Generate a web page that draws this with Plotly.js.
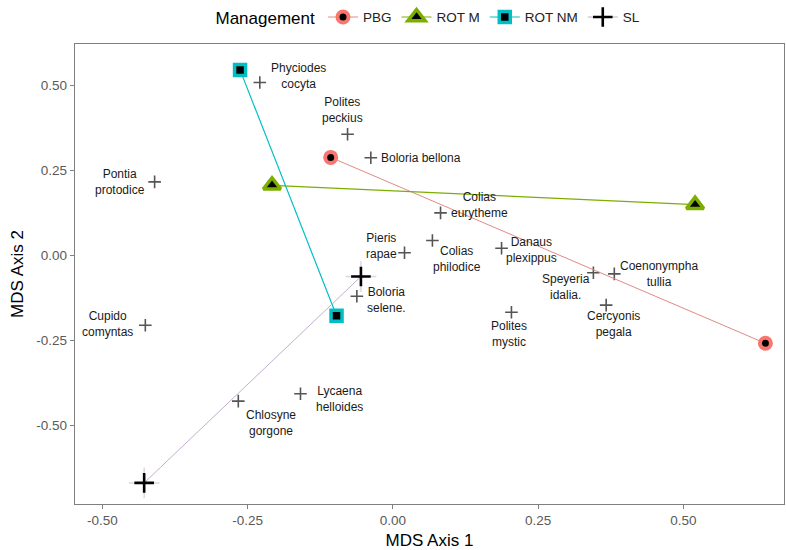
<!DOCTYPE html>
<html>
<head>
<meta charset="utf-8">
<script src="https://cdn.plot.ly/plotly-3.0.1.min.js"></script>
<style>html,body{margin:0;padding:0;background:#fff;}#chart{width:786px;height:550px;}</style>
</head>
<body>
<div id="chart"></div>
<script>
// ---- Data ----
const groupNames = ['PBG', 'ROT M', 'ROT NM', 'SL'];
const pbgX = [-0.107, 0.641];
const pbgY = [0.288, -0.258];
const rotmX = [-0.208, 0.520];
const rotmY = [0.206, 0.149];
const rotnmX = [-0.263, -0.097];
const rotnmY = [0.545, -0.177];
const slX = [-0.055, -0.428];
const slY = [-0.062, -0.668];

const speciesNames = [
  'Phyciodes<br>cocyta', 'Polites<br>peckius', 'Boloria bellona', 'Pontia<br>protodice',
  'Colias<br>eurytheme', 'Pieris<br>rapae', 'Colias<br>philodice', 'Danaus<br>plexippus',
  'Speyeria<br>idalia.', 'Coenonympha<br>tullia', 'Cercyonis<br>pegala', 'Polites<br>mystic',
  'Boloria<br>selene.', 'Cupido<br>comyntas', 'Chlosyne<br>gorgone', 'Lycaena<br>helloides'
];
const speciesX = [-0.229, -0.078, -0.038, -0.410, 0.082, 0.020, 0.068, 0.187,
                  0.345, 0.381, 0.367, 0.204, -0.062, -0.426, -0.266, -0.159];
const speciesY = [0.508, 0.356, 0.287, 0.216, 0.125, 0.008, 0.044, 0.021,
                  -0.051, -0.054, -0.146, -0.167, -0.120, -0.205, -0.428, -0.406];

// ---- Label offsets (pixels, style only) ----
const labelDX = [39, -5, 50, -35, 39, -23, 25, 30, -27, 45, 7, -2, 30, -38, 33, 39];
const labelDY = [6, 24, 0, 0, 8, 7, -19, -2, -14, 0, -19, -22, -4, 1, -22, -5];

const colors = {PBG: '#F8766D', 'ROT M': '#7CAE00', 'ROT NM': '#00BFC4', SL: '#C77CFF'};
const FONT = 'Liberation Sans, Arial, sans-serif';

const traces = [];

// Species crosses
traces.push({
  x: speciesX, y: speciesY, mode: 'markers', type: 'scatter', showlegend: false,
  hoverinfo: 'skip',
  marker: {symbol: 'cross-thin', size: 9, color: '#555', line: {color: '#555', width: 1.6}}
});

// Group traces
traces.push({
  name: groupNames[0], x: pbgX, y: pbgY, mode: 'lines+markers', type: 'scatter',
  line: {color: '#E08A86', width: 1},
  marker: {symbol: 'circle', size: 11, color: '#000', line: {color: colors.PBG, width: 4}}
});
traces.push({
  name: groupNames[1], x: rotmX, y: rotmY, mode: 'lines+markers', type: 'scatter',
  line: {color: colors['ROT M'], width: 1.2},
  marker: {symbol: 'triangle-up', size: 15, color: '#000', line: {color: colors['ROT M'], width: 3.5}}
});
traces.push({
  name: groupNames[2], x: rotnmX, y: rotnmY, mode: 'lines+markers', type: 'scatter',
  line: {color: colors['ROT NM'], width: 1.2},
  marker: {symbol: 'square', size: 11, color: '#000', line: {color: colors['ROT NM'], width: 3.5}}
});
// SL halo
traces.push({
  x: slX, y: slY, mode: 'markers', type: 'scatter', showlegend: false, hoverinfo: 'skip',
  marker: {symbol: 'cross-thin', size: 22, color: 'rgba(0,0,0,0.15)', line: {color: 'rgba(0,0,0,0.15)', width: 1.5}}
});
traces.push({
  name: groupNames[3], x: slX, y: slY, mode: 'lines+markers', type: 'scatter',
  line: {color: '#C3AFCF', width: 1},
  marker: {symbol: 'cross-thin', size: 14, color: '#000', line: {color: '#000', width: 2.6}}
});

const annotations = speciesNames.map((t, i) => ({
  x: speciesX[i], y: speciesY[i], xref: 'x', yref: 'y', text: t, showarrow: false,
  xshift: labelDX[i], yshift: labelDY[i], align: 'center',
  font: {family: FONT, size: 12, color: '#1a1a1a'}
}));

const axisCommon = {
  showgrid: false, zeroline: false, showline: true, mirror: true,
  linecolor: '#7f7f7f', linewidth: 1.2, ticks: 'outside', ticklen: 4,
  tickcolor: '#7f7f7f', tickwidth: 1.1,
  tickfont: {family: FONT, size: 13.5, color: '#5a5a5a'}
};

const layout = {
  width: 786, height: 550,
  margin: {l: 75, r: 2, t: 42, b: 46},
  paper_bgcolor: '#fff', plot_bgcolor: '#fff',
  font: {family: FONT},
  xaxis: Object.assign({}, axisCommon, {
    range: [-0.547, 0.673], tickvals: [-0.5, -0.25, 0, 0.25, 0.5],
    ticktext: ['-0.50', '-0.25', '0.00', '0.25', '0.50'],
    title: {text: 'MDS Axis 1', font: {family: FONT, size: 17, color: '#000'}, standoff: 6}
  }),
  yaxis: Object.assign({}, axisCommon, {
    range: [-0.730, 0.621], tickvals: [-0.5, -0.25, 0, 0.25, 0.5],
    ticktext: ['-0.50', '-0.25', '0.00', '0.25', '0.50'],
    title: {text: 'MDS Axis 2', font: {family: FONT, size: 17, color: '#000'}, standoff: 8}
  }),
  showlegend: true,
  legend: {
    orientation: 'h', x: 0.5, xanchor: 'center', y: 1.056, yanchor: 'middle',
    font: {family: FONT, size: 13.5, color: '#222'},
    title: {text: 'Management', side: 'left', font: {family: FONT, size: 17, color: '#000'}},
    itemwidth: 30, tracegroupgap: 0, bgcolor: 'rgba(0,0,0,0)'
  },
  annotations: annotations
};

Plotly.newPlot('chart', traces, layout, {displayModeBar: false, staticPlot: true});
</script>
</body>
</html>
